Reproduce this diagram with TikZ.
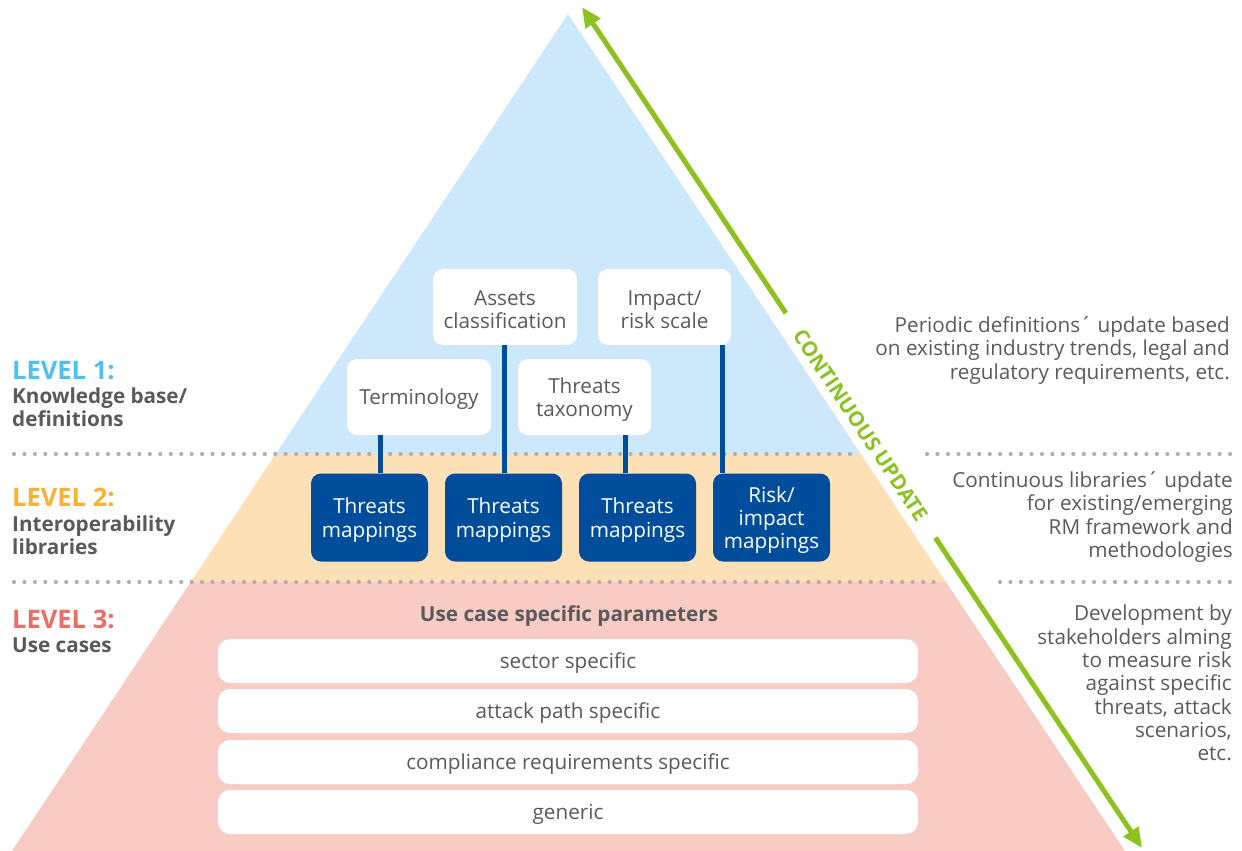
\documentclass[tikz,border=0pt]{standalone}
\usepackage{fontspec}
\setmainfont{Open Sans}
\usetikzlibrary{arrows.meta,calc}
\definecolor{skyband}{HTML}{CCE8FA}
\definecolor{peachband}{HTML}{FDE0B5}
\definecolor{pinkband}{HTML}{F8CCC4}
\definecolor{navy}{HTML}{004D9C}
\definecolor{leaf}{HTML}{8CC21F}
\definecolor{txtgray}{HTML}{5A5A5A}
\definecolor{dotgray}{HTML}{B0B0B0}
\definecolor{lvA}{HTML}{4FC1F0}
\definecolor{lvB}{HTML}{F8B133}
\definecolor{lvC}{HTML}{EB6E66}
\tikzset{
  bodyfont/.style={font=\fontsize{20.7}{23.3}\selectfont},
  whitebox/.style={fill=white, rounded corners=10pt, inner sep=0pt},
  navybox/.style={fill=navy, rounded corners=10pt, inner sep=0pt, minimum width=117pt, minimum height=88pt},
  barbox/.style={fill=white, rounded corners=12pt, inner sep=0pt, minimum width=700pt, minimum height=44pt},
  graytext/.style={bodyfont, text=txtgray, align=center, inner sep=0pt},
  whitetext/.style={bodyfont, text=white, align=center, inner sep=0pt},
  conn/.style={draw=navy, line width=5pt},
  dotline/.style={draw=dotgray, line width=4.2pt, line cap=round, dash pattern=on 0pt off 10.45pt},
  sidetext/.style={bodyfont, text=txtgray, align=right, anchor=east, inner sep=0pt},
  lvlhead/.style={font=\bfseries\fontsize{25.5}{29}\selectfont, anchor=west, inner sep=0pt},
  lvldesc/.style={font=\bfseries\fontsize{20.7}{23.3}\selectfont, text=txtgray, anchor=west, align=left, inner sep=0pt},
  leafline/.style={draw=leaf, line width=5pt},
}
\begin{document}
\begin{tikzpicture}[x=1pt,y=-1pt]
\useasboundingbox (0,0) rectangle (1242,851);

% pyramid bands
\begin{scope}
  \clip (568,14) -- (12,851) -- (1125,851) -- cycle;
  \fill[skyband] (0,0) rectangle (1242,454);
  \fill[peachband] (0,454) rectangle (1242,582);
  \fill[pinkband] (0,582) rectangle (1242,851);
\end{scope}

% dotted separators
\draw[dotline] (14,454) -- (860,454);
\draw[dotline] (927,454) -- (1235,454);
\draw[dotline] (14,582) -- (942,582);
\draw[dotline] (1000,582) -- (1235,582);

% level 1 boxes
\node[whitebox, minimum width=144pt, minimum height=76pt] (assets) at (505,307) {};
\node[whitebox, minimum width=133pt, minimum height=76pt] (impact) at (664.5,307) {};
\node[whitebox, minimum width=144pt, minimum height=76pt] (term) at (419,397) {};
\node[whitebox, minimum width=133pt, minimum height=76pt] (taxo) at (584.5,397) {};
\node[graytext] (assets-t) at ([yshift=-2.5pt]assets.center) {Assets\\classification};
\node[graytext] (impact-t) at ([yshift=-2.5pt]impact.center) {Impact/\\risk scale};
\node[graytext] (term-t) at ([yshift=-2.5pt]term.center) {Terminology};
\node[graytext] (taxo-t) at ([yshift=-2.5pt]taxo.center) {Threats\\taxonomy};

% level 2 boxes
\node[navybox] (tm1) at (369.5,517.5) {};
\node[navybox] (tm2) at (503.5,517.5) {};
\node[navybox] (tm3) at (637.5,517.5) {};
\node[navybox] (rim) at (771.5,517.5) {};
\node[whitetext] (tm1-t) at ([yshift=-2.5pt]tm1.center) {Threats\\mappings};
\node[whitetext] (tm2-t) at ([yshift=-2.5pt]tm2.center) {Threats\\mappings};
\node[whitetext] (tm3-t) at ([yshift=-2.5pt]tm3.center) {Threats\\mappings};
\node[whitetext] (rim-t) at ([yshift=-2.5pt]rim.center) {Risk/\\impact\\mappings};

% connectors
\coordinate (xa) at (380,0);
\coordinate (xb) at (504,0);
\coordinate (xc) at (625,0);
\coordinate (xd) at (722.5,0);
\draw[conn] (term.south -| xa) -- (tm1.north -| xa);
\draw[conn] (assets.south -| xb) -- (tm2.north -| xb);
\draw[conn] (taxo.south -| xc) -- (tm3.north -| xc);
\draw[conn] (impact.south -| xd) -- (rim.north -| xd);

% level 3
\node[font=\bfseries\fontsize{20.7}{23.3}\selectfont, text=txtgray, inner sep=0pt] (ucp) at (569,616.5) {Use case specific parameters};
\node[barbox] (b1) at (568,661) {};
\node[barbox] (b2) at (568,711) {};
\node[barbox] (b3) at (568,762) {};
\node[barbox] (b4) at (568,812) {};
\node[graytext] (b1-t) at ([yshift=-2.5pt]b1.center) {sector specific};
\node[graytext] (b2-t) at ([yshift=-2.5pt]b2.center) {attack path specific};
\node[graytext] (b3-t) at ([yshift=-2.5pt]b3.center) {compliance requirements specific};
\node[graytext] (b4-t) at ([yshift=-2.5pt]b4.center) {generic};

% left labels
\node[lvlhead, text=lvA] (l1) at (12,371) {LEVEL 1:};
\node[lvldesc] (d1) at (12,407.5) {Knowledge base/\\definitions};
\node[lvlhead, text=lvB] (l2) at (12,497) {LEVEL 2:};
\node[lvldesc] (d2) at (12,535) {Interoperability\\libraries};
\node[lvlhead, text=lvC] (l3) at (12,619) {LEVEL 3:};
\node[lvldesc] (d3) at (12,645) {Use cases};

% right texts
\node[sidetext] (r1) at (1230,350.5) {Periodic definitions´ update based\\on existing industry trends, legal and\\regulatory requirements, etc.};
\node[sidetext] (r2) at (1233,517) {Continuous libraries´ update\\for existing/emerging\\RM framework and\\methodologies};
\node[sidetext] (r3) at (1232,683) {Development by\\stakeholders alming\\to measure risk\\against specific\\threats, attack\\scenarios,\\etc.};

% continuous update arrow
\coordinate (atop) at (582,7);
\coordinate (abot) at (1142,848);
\draw[leafline, {Triangle[length=20pt,width=17pt]}-] (atop) -- ($(atop)!0.364!(abot)$);
\draw[leafline, -{Triangle[length=20pt,width=17pt]}] ($(atop)!0.631!(abot)$) -- (abot);
\path (atop) -- (abot) node[pos=0.4975, sloped, text=leaf, font=\bfseries\fontsize{20.6}{24}\selectfont, inner sep=0pt] (cu) {CONTINUOUS UPDATE};
\end{tikzpicture}
\end{document}
